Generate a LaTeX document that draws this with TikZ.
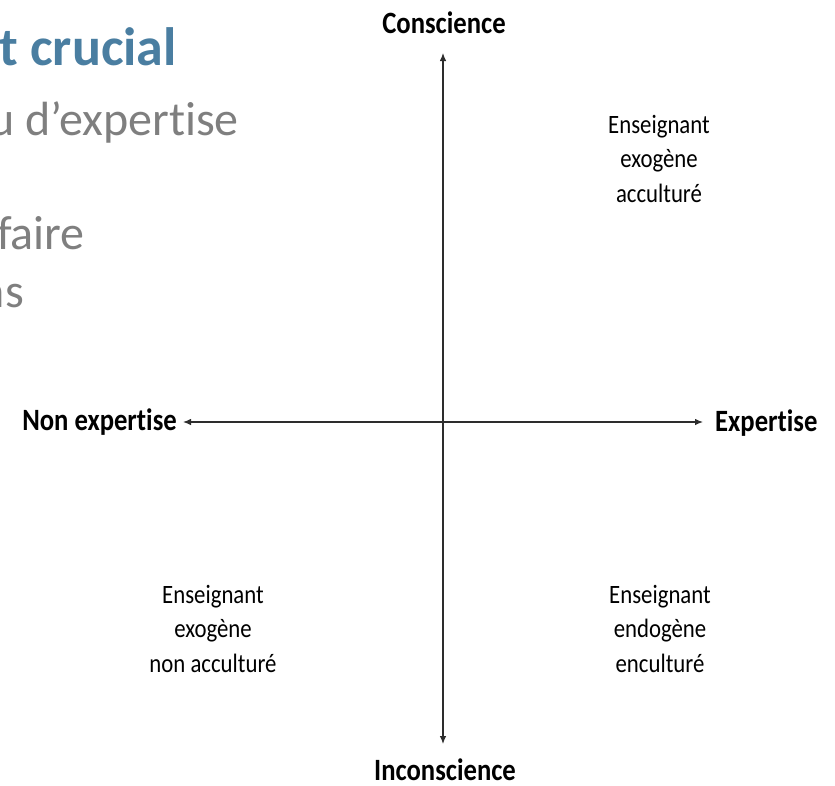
\documentclass[tikz,border=0pt]{standalone}
\usepackage{fontspec}
\setmainfont[Ligatures=NoCommon]{Carlito}
\newfontfamily\narrowfont[FakeStretch=0.86,Ligatures=NoCommon]{Carlito}
\usetikzlibrary{arrows.meta}
\definecolor{titleblue}{RGB}{74,126,161}
\definecolor{bodygray}{RGB}{127,127,127}
\definecolor{axisgray}{RGB}{45,45,45}

\begin{document}
\begin{tikzpicture}[x=1pt,y=-1pt,
    axis/.style={draw=axisgray,line width=1.1pt,
        {Latex[length=8pt,width=6.5pt]}-{Latex[length=8pt,width=6.5pt]}},
    axislabel/.style={font=\narrowfont\bfseries\fontsize{31}{31}\selectfont,
        inner sep=0pt},
    quadrant/.style={font=\narrowfont\fontsize{26.5}{34.5}\selectfont,
        align=center, inner sep=0pt, anchor=north},
    slidetitle/.style={font=\bfseries\fontsize{54}{54}\selectfont,
        text=titleblue, anchor=base east, inner sep=0pt},
    slidebody/.style={font=\fontsize{48}{48}\selectfont,
        text=bodygray, anchor=base east, inner sep=0pt}]
    \useasboundingbox (0,0) rectangle (835,785);

    % bits of the slide behind, cut at the left edge
    \node[slidetitle] (title) at (177,65) {t crucial};
    \node[slidebody] (line1) at (239,135) {u d’expertise};
    \node[slidebody] (line2) at (85,249) {faire};
    \node[slidebody] (line3) at (24,307) {ns};

    % axes
    \coordinate (top) at (443,53);
    \coordinate (bottom) at (443,744);
    \coordinate (west) at (183,422);
    \coordinate (east) at (703,422);
    \draw[axis] (bottom) -- (top);
    \draw[axis] (west) -- (east);

    \node[axislabel, anchor=base] (conscience) at (444,33) {Conscience};
    \node[axislabel, anchor=base] (inconscience) at (445,780) {Inconscience};
    \node[axislabel, anchor=base east] (nonexpertise) at (177,430) {Non expertise};
    \node[axislabel, anchor=base west] (expertise) at (715,431) {Expertise};

    % quadrants
    \node[quadrant] (acculture) at (659,115) {Enseignant\\exogène\\acculturé};
    \node[quadrant] (nonacculture) at (213,585) {Enseignant\\exogène\\non acculturé};
    \node[quadrant] (enculture) at (660,585) {Enseignant\\endogène\\enculturé};

\end{tikzpicture}
\end{document}
